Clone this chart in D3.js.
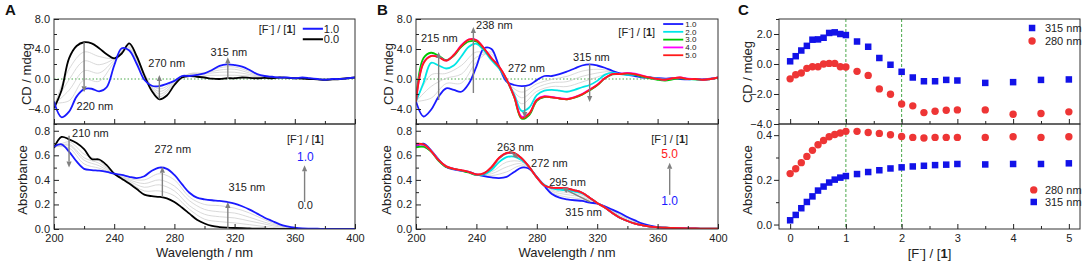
<!DOCTYPE html>
<html><head><meta charset="utf-8">
<script src="https://cdn.jsdelivr.net/npm/d3@7"></script>
<style>
body{margin:0;background:#fff}
svg text{font-family:Arial,"Liberation Sans",sans-serif}
</style></head><body>
<svg id="chart" width="1084" height="262"></svg>
<script>
// ---------------- DATA ----------------
const wavelength = [200,205,210,215,220,225,230,235,240,245,250,255,260,265,270,275,280,285,290,295,300,305,310,315,320,325,330,335,340,345,350,355,360,365,370,375,380,385,390,395,400];
const wavelengthGray = [200,210,220,230,240,250,260,270,280,290,300,310,320,330,340,350,360,370,380,390,400];

// Panel A, CD
const cdA_0 = [-3.9,-1.5,2.75,4.4,4.9,4.75,4.1,3.3,2.75,3.4,4.75,3.0,0.5,-1.6,-2.7,-2.2,-0.8,0.2,0.4,0.3,0.2,0.05,0.0,0.1,0.1,0.2,0.15,0.1,0.15,0.1,0.2,0.15,0.1,0.05,0.0,-0.05,-0.1,-0.05,0.0,0.1,0.2];
const cdA_1 = [-3.0,-5.1,-4.35,-2.35,-1.35,-1.3,-1.65,-1.1,1.8,4.1,3.8,2.0,-0.1,-0.9,-0.95,-0.65,-0.25,0.4,0.4,0.55,0.75,1.2,1.75,1.95,1.85,1.65,1.2,0.65,0.4,0.3,0.2,0.2,0.1,0.2,0.1,0.0,-0.1,0.0,0.0,0.1,0.2];
const cdA_gray = [
  [-3.7,1.3,3.6,3.0,2.8,4.6,0.8,-2.35,-0.7,0.6,0.5,0.5,0.5,0.4,0.2,0.2,0.1,0.05,-0.1,0.0,0.2],
  [-3.5,-0.1,2.4,1.9,2.7,4.4,0.6,-2.0,-0.6,0.7,0.7,0.9,0.9,0.6,0.25,0.2,0.1,0.05,-0.1,0.0,0.2],
  [-3.4,-1.5,1.1,0.8,2.5,4.2,0.3,-1.65,-0.45,0.7,0.8,1.2,1.3,0.8,0.3,0.2,0.1,0.05,-0.1,0.0,0.2],
  [-3.2,-2.9,-0.1,-0.3,2.2,4.0,0.1,-1.3,-0.35,0.6,0.8,1.5,1.6,1.0,0.35,0.2,0.1,0.05,-0.1,0.0,0.2]
];
// Panel A, absorbance
const abA_0 = [0.66,0.75,0.73,0.70,0.65,0.57,0.566,0.52,0.45,0.41,0.37,0.325,0.28,0.267,0.262,0.25,0.22,0.175,0.125,0.075,0.045,0.025,0.016,0.011,0.008,0.006,0.004,0.003,0.002,0.001,0.001,0,0,0,0,0,0,0,0,0,0];
const abA_1 = [0.67,0.69,0.63,0.55,0.49,0.48,0.475,0.465,0.45,0.44,0.425,0.415,0.43,0.475,0.50,0.49,0.44,0.365,0.295,0.255,0.242,0.234,0.229,0.22,0.207,0.185,0.158,0.125,0.092,0.065,0.038,0.022,0.011,0.005,0.003,0.002,0.001,0.001,0.001,0.001,0.001];
const abA_gray = [
  [0.66,0.71,0.61,0.555,0.45,0.38,0.31,0.31,0.27,0.16,0.08,0.06,0.05,0.035,0.02,0.008,0.003,0.001,0,0,0],
  [0.665,0.69,0.58,0.535,0.45,0.39,0.34,0.36,0.31,0.19,0.12,0.10,0.09,0.065,0.04,0.016,0.005,0.001,0,0,0],
  [0.665,0.68,0.56,0.515,0.45,0.40,0.37,0.40,0.35,0.23,0.16,0.14,0.13,0.095,0.055,0.024,0.007,0.002,0,0,0],
  [0.67,0.66,0.53,0.495,0.45,0.41,0.40,0.45,0.40,0.26,0.20,0.19,0.17,0.13,0.075,0.03,0.009,0.002,0,0,0]
];

// Panel B, CD
const cdB_1 = [-3.0,-5.0,-4.1,-2.35,-1.25,-1.45,-1.7,-0.6,1.65,4.1,4.0,1.65,-0.35,-0.8,-0.95,-0.8,-0.15,0.4,0.4,0.65,1.0,1.4,1.8,1.95,1.8,1.5,1.1,0.75,0.55,0.4,0.2,0.2,0.1,0.05,0.1,0.0,-0.05,0.0,-0.05,0.05,0.15];
const cdB_2 = [-3.0,-0.5,2.15,1.8,1.4,1.8,3.0,4.3,4.7,3.8,2.5,1.4,-0.15,-2.05,-4.25,-3.8,-2.15,-1.55,-1.45,-1.55,-1.7,-1.45,-1.1,-0.8,-0.25,0.55,0.85,0.65,0.55,0.55,0.3,0.2,0.05,-0.05,0.1,0.15,0.0,-0.05,-0.1,0.0,0.2];
const cdB_3 = [-3.0,2.8,3.5,3.1,2.5,3.1,4.3,5.0,5.0,4.0,2.75,1.6,-0.1,-2.4,-5.3,-4.8,-2.9,-2.4,-2.45,-2.6,-2.7,-2.5,-2.1,-1.5,-0.85,0.05,0.6,0.65,0.75,0.6,0.3,0.1,-0.1,-0.2,-0.05,0.1,0.0,-0.05,-0.15,0.0,0.15];
const cdB_4 = [-3.0,2.2,3.1,2.95,2.45,3.2,4.5,5.3,5.2,4.1,2.8,1.65,-0.05,-2.3,-5.0,-4.6,-2.75,-2.3,-2.4,-2.55,-2.65,-2.4,-2.0,-1.4,-0.75,0.1,0.65,0.7,0.8,0.7,0.45,0.2,0.0,-0.1,0.1,0.2,0.05,0.0,-0.1,0.0,0.2];
const cdB_5 = [-3.0,2.1,3.05,2.9,2.45,3.2,4.4,5.25,5.15,4.1,2.75,1.65,-0.05,-2.35,-5.2,-4.6,-2.8,-2.35,-2.45,-2.6,-2.7,-2.45,-2.05,-1.45,-0.8,0.1,0.65,0.65,0.75,0.65,0.4,0.2,0.0,-0.1,0.1,0.2,0.0,0.0,-0.1,0.0,0.2];
const cdB_gray = [
  [-3.0,-2.55,-0.6,-0.55,2.25,3.6,-0.3,-1.75,-0.65,-0.05,0.35,1.05,1.3,1.05,0.55,0.25,0.1,0.05,0,-0.05,0.2],
  [-3.0,-1.0,0.1,0.65,2.9,3.3,-0.25,-2.5,-1.15,-0.5,-0.35,0.35,0.8,1.0,0.55,0.25,0.1,0.05,0,-0.05,0.2],
  [-3.0,0.55,0.75,1.8,3.6,2.9,-0.2,-3.3,-1.65,-1.0,-1.0,-0.4,0.25,0.9,0.55,0.25,0.1,0.05,0,-0.05,0.2]
];
// Panel B, absorbance
const abB_1 = [0.675,0.695,0.64,0.565,0.505,0.485,0.475,0.465,0.445,0.43,0.42,0.415,0.425,0.465,0.50,0.49,0.425,0.35,0.285,0.255,0.242,0.234,0.229,0.215,0.207,0.185,0.158,0.13,0.098,0.07,0.044,0.027,0.016,0.01,0.006,0.004,0.003,0.002,0.001,0.001,0.001];
const abB_2 = [0.69,0.685,0.635,0.56,0.51,0.49,0.475,0.465,0.44,0.445,0.48,0.545,0.585,0.59,0.56,0.505,0.42,0.36,0.33,0.32,0.315,0.305,0.29,0.255,0.212,0.175,0.13,0.092,0.065,0.044,0.03,0.019,0.014,0.01,0.008,0.006,0.005,0.004,0.003,0.003,0.003];
const abB_3 = [0.665,0.67,0.63,0.555,0.505,0.49,0.475,0.46,0.44,0.45,0.50,0.575,0.615,0.615,0.575,0.505,0.42,0.355,0.337,0.335,0.33,0.315,0.295,0.255,0.212,0.175,0.13,0.092,0.065,0.044,0.03,0.019,0.014,0.01,0.008,0.006,0.005,0.004,0.003,0.003,0.003];
const abB_4 = [0.685,0.685,0.635,0.56,0.51,0.49,0.478,0.465,0.443,0.453,0.503,0.578,0.618,0.618,0.575,0.505,0.42,0.355,0.337,0.335,0.33,0.315,0.295,0.255,0.212,0.175,0.13,0.092,0.065,0.044,0.03,0.019,0.014,0.01,0.008,0.006,0.005,0.004,0.003,0.003,0.003];
const abB_5 = [0.695,0.69,0.635,0.56,0.51,0.49,0.48,0.465,0.445,0.455,0.505,0.58,0.62,0.62,0.575,0.505,0.42,0.355,0.337,0.335,0.33,0.315,0.295,0.255,0.212,0.175,0.13,0.092,0.065,0.044,0.03,0.019,0.014,0.01,0.008,0.006,0.005,0.004,0.003,0.003,0.003];
const abB_gray = [
  [0.68,0.64,0.505,0.475,0.445,0.435,0.465,0.515,0.425,0.296,0.26,0.244,0.208,0.151,0.09,0.04,0.015,0.007,0.004,0.002,0.002],
  [0.68,0.64,0.51,0.475,0.443,0.45,0.505,0.53,0.42,0.308,0.28,0.26,0.21,0.144,0.082,0.037,0.015,0.007,0.004,0.002,0.002],
  [0.685,0.635,0.51,0.475,0.441,0.465,0.545,0.545,0.42,0.319,0.297,0.275,0.211,0.137,0.073,0.033,0.014,0.007,0.004,0.003,0.003]
];

// Panel C
const ratio = [0,0.1,0.2,0.3,0.4,0.5,0.6,0.7,0.8,0.9,1.0,1.2,1.4,1.6,1.8,2.0,2.2,2.4,2.6,2.8,3.0,3.5,4.0,4.5,5.0];
const cd315 = [0.18,0.52,0.9,1.21,1.62,1.64,1.75,2.07,2.11,2.0,1.93,1.5,1.15,0.4,-0.05,-0.52,-0.9,-1.15,-1.15,-1.06,-1.1,-1.26,-1.21,-1.06,-1.03];
const cd280 = [-0.99,-0.72,-0.6,-0.29,-0.18,-0.18,0.0,0.04,0.04,-0.18,-0.2,-0.49,-0.76,-1.66,-2.02,-2.67,-2.79,-3.24,-3.15,-3.08,-3.06,-3.06,-3.35,-3.3,-3.19];
const ab280 = [0.228,0.25,0.277,0.305,0.332,0.357,0.376,0.393,0.403,0.41,0.417,0.417,0.412,0.408,0.402,0.394,0.39,0.387,0.39,0.39,0.39,0.39,0.393,0.39,0.393];
const ab315 = [0.019,0.043,0.073,0.101,0.126,0.152,0.17,0.188,0.201,0.21,0.217,0.226,0.235,0.243,0.251,0.256,0.26,0.263,0.266,0.268,0.271,0.269,0.271,0.271,0.274];

// Tick values
const wlTicks = [200,240,280,320,360,400];
const wlMinor = [220,260,300,340,380];
const cdTicks = [-4,0,4,8];
const cdMinor = [-6,-2,2,6];
const absTicks = [0,0.2,0.4,0.6,0.8];
const absMinor = [0.1,0.3,0.5,0.7];
const ratioTicks = [0,1,2,3,4,5];
const ratioMinor = [0.5,1.5,2.5,3.5,4.5];
const cdCTicks = [-4,-2,0,2];
const cdCMinor = [-3,-1,1,3];
const absCTicks = [0,0.2,0.4];
const absCMinor = [0.1,0.3];

// ---------------- DRAWING ----------------
const svg = d3.select("#chart");
const FONT = 'Arial, "Liberation Sans", sans-serif';
const BLUE = "#1a1aff", CYAN = "#00e6e6", GREEN = "#00c800", MAGENTA = "#ff00ff", RED = "#ff1a1a";
const GRAY = "#cfcfcf", ARROW = "#808080", ZERO = "#4aa84a";
const Y_TOP = 19, Y_MID = 124, Y_BOT = 229;

function styleAxis(sel, size) {
  sel.select(".domain").remove();
  sel.attr("font-family", FONT).attr("font-size", size || 11).attr("color", "#222");
}
function addYAxis(g, y, x0, major, minor, fmt, inward) {
  const s = inward ? -1 : 1;
  g.append("g").attr("transform", `translate(${x0},0)`)
    .call(d3.axisLeft(y).tickValues(minor).tickSize(3 * s).tickFormat(""))
    .call(a => styleAxis(a));
  g.append("g").attr("transform", `translate(${x0},0)`)
    .call(d3.axisLeft(y).tickValues(major).tickSize(5 * s).tickPadding(inward ? 4 : 2).tickFormat(fmt))
    .call(a => styleAxis(a));
}
function addXTicks(g, x, y0, major, minor, fmt, labels) {
  g.append("g").attr("transform", `translate(0,${y0})`)
    .call(d3.axisBottom(x).tickValues(minor).tickSize(-3).tickFormat(""))
    .call(a => styleAxis(a));
  g.append("g").attr("transform", `translate(0,${y0})`)
    .call(d3.axisBottom(x).tickValues(major).tickSize(-5).tickPadding(5).tickFormat(labels ? fmt : ""))
    .call(a => styleAxis(a));
}
function frame(g, x0, x1, y0, y1) {
  g.append("rect").attr("x", x0).attr("y", y0).attr("width", x1 - x0).attr("height", y1 - y0)
    .attr("fill", "none").attr("stroke", "#333").attr("stroke-width", 1);
}
function curve(g, xs, ys, x, y, color, w) {
  const line = d3.line().x((d, i) => x(xs[i])).y(d => y(d)).curve(d3.curveCatmullRom.alpha(0.5));
  g.append("path").attr("d", line(ys)).attr("fill", "none").attr("stroke", color)
    .attr("stroke-width", w).attr("stroke-linejoin", "round");
}
function arrow(g, x1, y1, x2, y2, color) {
  color = color || ARROW;
  const a = Math.atan2(y2 - y1, x2 - x1), L = 6, W = 2.6;
  const bx = x2 - L * Math.cos(a), by = y2 - L * Math.sin(a);
  g.append("line").attr("x1", x1).attr("y1", y1).attr("x2", bx).attr("y2", by)
    .attr("stroke", color).attr("stroke-width", 1.4);
  g.append("path").attr("d", `M${x2},${y2}L${bx + W * Math.sin(a)},${by - W * Math.cos(a)}L${bx - W * Math.sin(a)},${by + W * Math.cos(a)}Z`)
    .attr("fill", color);
}
function label(g, x, y, txt, opts) {
  opts = opts || {};
  return g.append("text").attr("x", x).attr("y", y).attr("dy", "0.35em")
    .attr("text-anchor", opts.anchor || "start").attr("font-size", opts.size || 11)
    .attr("fill", opts.color || "#222").text(txt);
}
function ratioText(g, x, y, size, anchor) {
  const t = g.append("text").attr("x", x).attr("y", y).attr("dy", "0.35em")
    .attr("text-anchor", anchor || "middle").attr("font-size", size).attr("fill", "#222");
  t.append("tspan").text("[F");
  t.append("tspan").attr("dy", -size * 0.4).attr("font-size", size * 0.7).text("-");
  t.append("tspan").attr("dy", size * 0.4).text("] / [");
  t.append("tspan").attr("font-weight", "bold").text("1");
  t.append("tspan").text("]");
  return t;
}
function yTitle(g, x, y, txt) {
  g.append("text").attr("transform", `translate(${x},${y}) rotate(-90)`).attr("text-anchor", "middle")
    .attr("dy", "0.35em").attr("font-size", 13).attr("fill", "#222").text(txt);
}
function panelLetter(g, x, txt) {
  g.append("text").attr("x", x).attr("y", 15).attr("font-size", 15).attr("font-weight", "bold")
    .attr("fill", "#111").text(txt);
}
const fmt1 = d3.format(".1f");

function spectraPanel(px0, px1, cfg) {
  const g = svg.append("g");
  const x = d3.scaleLinear().domain([200, 400]).range([px0, px1]);
  const yT = d3.scaleLinear().domain([-6, 8]).range([Y_MID, Y_TOP]);
  const yB = d3.scaleLinear().domain([0, 0.855]).range([Y_BOT, Y_MID]);
  const clipT = "clipT" + px0, clipB = "clipB" + px0;
  const defs = svg.append("defs");
  defs.append("clipPath").attr("id", clipT).append("rect").attr("x", px0).attr("y", Y_TOP).attr("width", px1 - px0).attr("height", Y_MID - Y_TOP);
  defs.append("clipPath").attr("id", clipB).append("rect").attr("x", px0).attr("y", Y_MID).attr("width", px1 - px0).attr("height", Y_BOT - Y_MID);
  const gT = g.append("g").attr("clip-path", `url(#${clipT})`);
  const gB = g.append("g").attr("clip-path", `url(#${clipB})`);
  gT.append("line").attr("x1", px0).attr("x2", px1).attr("y1", yT(0)).attr("y2", yT(0))
    .attr("stroke", ZERO).attr("stroke-width", 1).attr("stroke-dasharray", "1.5,2");
  cfg.cdGray.forEach(s => curve(gT, wavelengthGray, s, x, yT, GRAY, 0.8));
  cfg.abGray.forEach(s => curve(gB, wavelengthGray, s, x, yB, GRAY, 0.8));
  cfg.series.forEach(s => {
    curve(gT, wavelength, s.cd, x, yT, s.color, 1.8);
    curve(gB, wavelength, s.ab, x, yB, s.color, 1.8);
  });
  frame(g, px0, px1, Y_TOP, Y_MID);
  frame(g, px0, px1, Y_MID, Y_BOT);
  addYAxis(g, yT, px0, cdTicks, cdMinor, fmt1, true);
  addYAxis(g, yB, px0, absTicks, absMinor, fmt1, true);
  addXTicks(g, x, Y_MID, wlTicks, wlMinor, null, false);
  addXTicks(g, x, Y_BOT, wlTicks, wlMinor, d3.format("d"), true);
  g.selectAll(".tick text").attr("font-size", 11);
  g.append("text").attr("x", (px0 + px1) / 2).attr("y", 252).attr("dy", "0.35em")
    .attr("text-anchor", "middle").attr("font-size", 13).attr("fill", "#222").text("Wavelength / nm");
  yTitle(g, cfg.titleX[0], 74, "CD / mdeg");
  yTitle(g, cfg.titleX[1], 180, "Absorbance");
  return { g, x, yT, yB };
}

// ---- Panel A ----
const A = spectraPanel(54, 355, {
  cdGray: cdA_gray, abGray: abA_gray,
  series: [{ cd: cdA_0, ab: abA_0, color: "#000" }, { cd: cdA_1, ab: abA_1, color: BLUE }],
  titleX: [26, 22]
});
panelLetter(svg, 5, "A");
(function () {
  const { g, x, yT, yB } = A;
  arrow(g, x(220), yT(4.9), x(220), yT(-1.75));
  label(g, x(215), yT(-3.6), "220 nm");
  arrow(g, x(270), yT(-2.7), x(270), yT(0.55));
  label(g, x(262.7), yT(2.1), "270 nm");
  arrow(g, x(315.5), yT(0.0), x(315.5), yT(2.9));
  label(g, x(304), yT(3.6), "315 nm");
  ratioText(g, x(348.3), yT(6.67), 11);
  g.append("line").attr("x1", x(365.3)).attr("x2", x(378.7)).attr("y1", yT(6.7)).attr("y2", yT(6.7)).attr("stroke", BLUE).attr("stroke-width", 2);
  label(g, x(379.3), yT(6.7), "1.0");
  g.append("line").attr("x1", x(365.3)).attr("x2", x(378.7)).attr("y1", yT(5.3)).attr("y2", yT(5.3)).attr("stroke", "#000").attr("stroke-width", 2);
  label(g, x(379.3), yT(5.3), "0.0");

  arrow(g, x(210), yB(0.76), x(210), yB(0.50));
  label(g, x(212), yB(0.78), "210 nm");
  arrow(g, x(272), yB(0.26), x(272), yB(0.506));
  label(g, x(266.7), yB(0.65), "272 nm");
  arrow(g, x(315.5), yB(0.0), x(315.5), yB(0.22));
  label(g, x(316), yB(0.34), "315 nm");
  ratioText(g, x(367), yB(0.735), 11);
  label(g, x(367), yB(0.59), "1.0", { anchor: "middle", color: BLUE, size: 12 });
  arrow(g, x(366.5), yB(0.22), x(366.5), yB(0.52));
  label(g, x(367), yB(0.196), "0.0", { anchor: "middle" });
})();

// ---- Panel B ----
const B = spectraPanel(416, 718, {
  cdGray: cdB_gray, abGray: abB_gray,
  series: [
    { cd: cdB_1, ab: abB_1, color: BLUE },
    { cd: cdB_2, ab: abB_2, color: CYAN },
    { cd: cdB_3, ab: abB_3, color: GREEN },
    { cd: cdB_4, ab: abB_4, color: MAGENTA },
    { cd: cdB_5, ab: abB_5, color: RED }
  ],
  titleX: [388, 386]
});
panelLetter(svg, 377, "B");
(function () {
  const { g, x, yT, yB } = B;
  arrow(g, x(215), yT(-2.8), x(215), yT(3.6));
  label(g, x(203.3), yT(5.47), "215 nm");
  arrow(g, x(238), yT(-1.87), x(238), yT(6.93));
  label(g, x(239.8), yT(7.2), "238 nm");
  arrow(g, x(272), yT(-1.07), x(272), yT(-5.2));
  label(g, x(261), yT(1.47), "272 nm");
  arrow(g, x(315), yT(2.0), x(315), yT(-3.07));
  label(g, x(304), yT(2.93), "315 nm");
  ratioText(g, x(346.2), yT(6.27), 11);
  const legB = [["1.0", BLUE, 7.33], ["2.0", CYAN, 6.29], ["3.0", GREEN, 5.25], ["4.0", MAGENTA, 4.21], ["5.0", RED, 3.17]];
  legB.forEach(([t, c, v]) => {
    g.append("line").attr("x1", x(363.7)).attr("x2", x(377)).attr("y1", yT(v)).attr("y2", yT(v)).attr("stroke", c).attr("stroke-width", 1.8);
    label(g, x(378.3), yT(v), t, { size: 8 });
  });

  label(g, x(253.7), yB(0.67), "263 nm");
  arrow(g, x(262), yB(0.635), x(268), yB(0.575));
  label(g, x(276.2), yB(0.54), "272 nm");
  label(g, x(288.2), yB(0.384), "295 nm");
  arrow(g, x(315.3), yB(0.22), x(296.8), yB(0.335));
  label(g, x(298.8), yB(0.139), "315 nm");
  ratioText(g, x(368), yB(0.735), 11);
  label(g, x(368), yB(0.612), "5.0", { anchor: "middle", color: RED, size: 12 });
  arrow(g, x(368), yB(0.278), x(368), yB(0.539));
  label(g, x(368), yB(0.229), "1.0", { anchor: "middle", color: BLUE, size: 12 });
})();

// ---- Panel C ----
(function () {
  const px0 = 779, px1 = 1080;
  const g = svg.append("g");
  const x = d3.scaleLinear().domain([-0.2, 5.2]).range([px0, px1]);
  const yT = d3.scaleLinear().domain([-4, 3]).range([Y_MID, Y_TOP]);
  const yB = d3.scaleLinear().domain([-0.02, 0.45]).range([Y_BOT, Y_MID]);
  [1, 2].forEach(v => g.append("line").attr("x1", x(v)).attr("x2", x(v)).attr("y1", Y_TOP).attr("y2", Y_BOT)
    .attr("stroke", ZERO).attr("stroke-width", 1).attr("stroke-dasharray", "3,2"));
  const SQ = 6.5, R = 3.7, CB = "#1212e8", CR = "#ee3535";
  function squares(xs, ys, y) {
    g.append("g").selectAll("rect").data(ys).join("rect")
      .attr("x", (d, i) => x(xs[i]) - SQ / 2).attr("y", d => y(d) - SQ / 2)
      .attr("width", SQ).attr("height", SQ).attr("fill", CB);
  }
  function circles(xs, ys, y) {
    g.append("g").selectAll("circle").data(ys).join("circle")
      .attr("cx", (d, i) => x(xs[i])).attr("cy", d => y(d)).attr("r", R).attr("fill", CR);
  }
  squares(ratio, cd315, yT);
  circles(ratio, cd280, yT);
  circles(ratio, ab280, yB);
  squares(ratio, ab315, yB);
  frame(g, px0, px1, Y_TOP, Y_MID);
  frame(g, px0, px1, Y_MID, Y_BOT);
  addYAxis(g, yT, px0, cdCTicks, cdCMinor, fmt1, false);
  addYAxis(g, yB, px0, absCTicks, absCMinor, fmt1, false);
  addXTicks(g, x, Y_MID, ratioTicks, ratioMinor, null, false);
  addXTicks(g, x, Y_BOT, ratioTicks, ratioMinor, d3.format("d"), true);
  ratioText(g, (px0 + px1) / 2, 253, 13);
  yTitle(g, 747, 72, "CD / mdeg");
  yTitle(g, 747, 180, "Absorbance");
  g.append("rect").attr("x", x(4.34) - SQ / 2).attr("y", yT(2.4) - SQ / 2).attr("width", SQ).attr("height", SQ).attr("fill", CB);
  label(g, x(4.57), yT(2.4), "315 nm");
  g.append("circle").attr("cx", x(4.34)).attr("cy", yT(1.53)).attr("r", R).attr("fill", CR);
  label(g, x(4.57), yT(1.53), "280 nm");
  g.append("circle").attr("cx", x(4.37)).attr("cy", yB(0.155)).attr("r", R).attr("fill", CR);
  label(g, x(4.57), yB(0.155), "280 nm");
  g.append("rect").attr("x", x(4.37) - SQ / 2).attr("y", yB(0.101) - SQ / 2).attr("width", SQ).attr("height", SQ).attr("fill", CB);
  label(g, x(4.57), yB(0.101), "315 nm");
})();
panelLetter(svg, 738, "C");
</script>
</body></html>
